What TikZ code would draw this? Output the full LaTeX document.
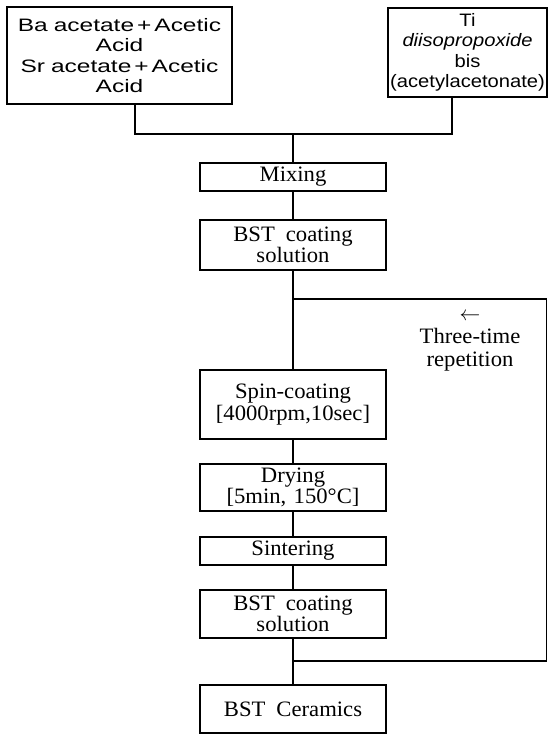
\documentclass[tikz,border=0pt]{standalone}
\usepackage{fontspec}
\setmainfont{Liberation Serif}[FakeStretch=1.03]
\newfontfamily\leftsrc{Liberation Sans}[FakeStretch=1.36]
\newfontfamily\rightsrc{Liberation Sans}[FakeStretch=1.12]
\usepackage{tikz}
\usetikzlibrary{positioning}

\begin{document}
\begin{tikzpicture}[
        x=1pt, y=1pt,
        stage/.style={rectangle, draw=black, text width=184pt, align=center, inner sep=0pt,
                      minimum width=186pt, font=\fontsize{22}{21.5}\selectfont,
                      line width=1.4pt},
        source/.style={rectangle, draw=black, align=center, inner sep=0pt,
                      font=\fontsize{18}{20.5}\selectfont, line width=1.4pt},
        link/.style={line width=1.4pt}
    ]
        \useasboundingbox (0,0) rectangle (548,-735);

        \node[source, minimum width=225pt, minimum height=97pt, text width=223pt] (acetate) at (119.5,-55.5)
            {\leftsrc Ba acetate\,+\,Acetic \\ \leftsrc Acid \\ \leftsrc Sr acetate\,+\,Acetic \\ \leftsrc Acid};
        \node[source, minimum width=159pt, minimum height=89pt, text width=158pt] (titanium) at (467.5,-52.5)
            {\rightsrc Ti \\ {\rightsrc\itshape diisopropoxide} \\ \rightsrc\upshape bis \\ \rightsrc\upshape (acetylacetonate)};

        \node[stage, minimum height=28pt] (mixing) at (293,-177) {Mixing};
        \node[stage, minimum height=50pt] (solution) at (293,-245) {BST\hspace{0.5em}coating \\ solution};
        \node[stage, minimum height=69pt] (spin) at (293,-404.5) {Spin-coating \\ {[}4000rpm,10sec{]}};
        \node[stage, minimum height=47pt] (drying) at (293,-487.5) {Drying \\ {[}5min, 150\textdegree C{]}};
        \node[stage, minimum height=28pt] (sintering) at (293,-551) {Sintering};
        \node[stage, minimum height=48pt] (solution2) at (293,-614) {BST\hspace{0.5em}coating \\ solution};
        \node[stage, minimum height=48pt] (ceramics) at (293,-709) {BST\hspace{0.5em}Ceramics};

        \node[align=center, font=\fontsize{22}{23}\selectfont, inner sep=0pt] (repeat) at (470,-342)
            {$\leftarrow$ \\ Three-time \\ repetition};

        \coordinate (joinL) at (135,-134);
        \coordinate (joinR) at (452,-134);
        \coordinate (joinC) at (293,-134);
        \coordinate (loopTop) at (293,-299);
        \coordinate (loopBot) at (293,-661);
        \coordinate (loopRight) at (546.5,-299);

        \draw[link] (joinL |- acetate.south) -- (joinL) -- (joinR) -- (joinR |- titanium.south);
        \draw[link] (joinC) -- (mixing);
        \draw[link] (mixing) -- (solution);
        \draw[link] (solution) -- (spin);
        \draw[link] (spin) -- (drying);
        \draw[link] (drying) -- (sintering);
        \draw[link] (sintering) -- (solution2);
        \draw[link] (solution2) -- (ceramics);
        \draw[link] (loopTop) -- (loopRight) |- (loopBot);
    \end{tikzpicture}
\end{document}
